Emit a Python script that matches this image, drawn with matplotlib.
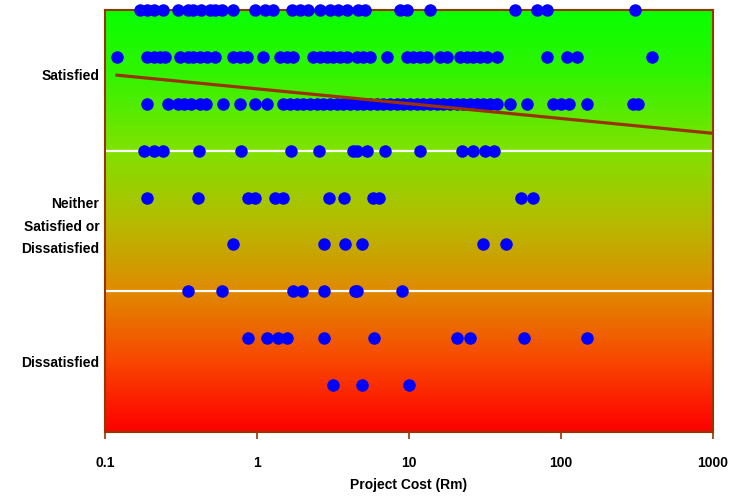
import numpy as np
import matplotlib
matplotlib.use('Agg')
import matplotlib.pyplot as plt
from matplotlib.colors import LinearSegmentedColormap
from matplotlib.ticker import FixedLocator, NullLocator, FixedFormatter

# Project cost (Rm) per satisfaction level (9 = top row, 1 = bottom row)
row9 = [0.17, 0.19, 0.21, 0.24, 0.30, 0.35, 0.38, 0.43, 0.49, 0.53, 0.59, 0.70,
        0.97, 1.13, 1.27, 1.70, 1.92, 2.17, 2.6, 3.02, 3.41, 3.91, 4.62, 5.14,
        8.7, 9.7, 13.7, 50, 70, 81, 307]
row8 = [0.12, 0.19, 0.21, 0.23, 0.25, 0.31, 0.35, 0.38, 0.42, 0.47, 0.53, 0.70,
        0.77, 0.86, 1.09, 1.42, 1.57, 1.72, 2.34, 2.6, 2.89, 3.16, 3.52, 3.91,
        4.55, 4.98, 5.54, 7.16, 9.7, 10.6, 11.8, 13.1, 16.0, 17.8, 21.7, 24.1,
        26.4, 29.3, 32.6, 37.9, 81, 109, 127, 397]
row7 = [0.19, 0.26, 0.30, 0.33, 0.37, 0.42, 0.46, 0.60, 0.77, 0.97, 1.16,
        1.48, 1.65, 1.83, 2.01, 2.23, 2.48, 2.72, 3.02, 3.36, 3.68, 4.09, 4.55,
        4.98, 5.54, 6.15, 6.75, 7.5, 8.34, 9.1, 10.2, 11.3, 12.4, 13.7, 15.3,
        16.7, 18.6, 20.7, 22.7, 25.2, 28.0, 30.7, 34.1, 37.9, 46.1, 59.7, 88.5,
        100, 113, 148, 298, 321]
row6 = [0.18, 0.21, 0.24, 0.415, 0.785, 1.67, 2.56, 4.29, 4.55, 5.29, 6.95,
        11.8, 22.3, 26.4, 31.6, 36.2]
row5 = [0.19, 0.41, 0.87, 0.97, 1.31, 1.48, 2.98, 3.74, 5.8, 6.35, 54.6, 65.5]
row4 = [0.70, 2.76, 3.79, 4.91, 30.7, 43.5]
row3 = [0.35, 0.59, 1.72, 1.98, 2.76, 4.42, 4.55, 9.0]
row2 = [0.87, 1.16, 1.37, 1.57, 2.76, 5.89, 20.7, 25.2, 57.1, 148]
row1 = [3.16, 4.91, 10.0]

rows = {9: row9, 8: row8, 7: row7, 6: row6, 5: row5, 4: row4, 3: row3, 2: row2, 1: row1}

# logarithmic trend line (end points)
trend_x = [0.12, 1000]
trend_y = [7.61, 6.37]

group_labels = ['Dissatisfied', 'Neither\nSatisfied or\nDissatisfied', 'Satisfied']
group_pos = [1.5, 4.5, 7.62]
x_ticks = [0.1, 1, 10, 100, 1000]
x_tick_labels = ['0.1', '1', '10', '100', '1000']

brown = '#993300'
plt.rcParams['font.family'] = ['Liberation Sans', 'DejaVu Sans']

fig = plt.figure(figsize=(7.35, 4.98), dpi=100)
ax = fig.add_axes([105 / 735, 1 - 432 / 498, 608 / 735, 422 / 498])

# background gradient red (bottom) -> green (top)
cmap = LinearSegmentedColormap.from_list('sat', [
    (0.0, '#ff0000'), (0.17, '#f84800'), (0.333, '#e08a00'),
    (0.5, '#b4bc00'), (0.667, '#80e200'), (0.85, '#30f400'), (1.0, '#08ff00')])
grad = np.linspace(0, 1, 256).reshape(-1, 1)
ax.imshow(grad, aspect='auto', cmap=cmap, origin='lower',
          extent=[0, 1, 0, 1], transform=ax.transAxes, zorder=0)

ax.set_xscale('log')
ax.set_xlim(0.1, 1000)
ax.set_ylim(0, 9)

for yv in [3, 6]:
    ax.axhline(yv, color='white', lw=1.6, zorder=1)

for level, costs in rows.items():
    ax.plot(costs, [level] * len(costs), 'o', color='#0000ff', ms=9,
            mec='none', zorder=3, clip_on=False)

ax.plot(trend_x, trend_y, color=brown, lw=2.3, zorder=4)

ax.xaxis.set_major_locator(FixedLocator(x_ticks))
ax.xaxis.set_major_formatter(FixedFormatter(x_tick_labels))
ax.xaxis.set_minor_locator(NullLocator())
ax.tick_params(axis='x', direction='out', length=5, width=1.2, color=brown,
               pad=12, labelsize=10)
for lab in ax.get_xticklabels():
    lab.set_fontweight('bold')

ax.set_yticks(group_pos)
ax.set_yticklabels(group_labels, fontsize=10, fontweight='bold', linespacing=1.75)
ax.tick_params(axis='y', length=0, pad=4)

for sp in ax.spines.values():
    sp.set_color(brown)
    sp.set_linewidth(1.5)

ax.set_xlabel('Project Cost (Rm)', fontsize=10, fontweight='bold', labelpad=6)

fig.savefig('out.png', dpi=100)
